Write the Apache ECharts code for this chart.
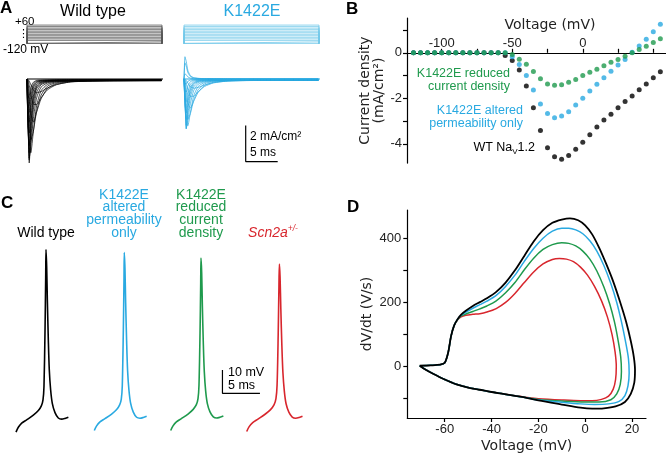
<!DOCTYPE html>
<html>
<head>
<meta charset="utf-8">
<script src="https://cdn.jsdelivr.net/npm/echarts@6/dist/echarts.min.js"></script>
<style>
  html, body { margin: 0; padding: 0; background: #fff; }
  #chart { width: 666px; height: 454px; }
</style>
</head>
<body>
<div id="chart"></div>
<script>
// ---------- A: voltage protocol and current families ----------
const stepLevels = [-120, -105, -90, -75, -60, -45, -30, -15, 0, 15, 30, 45, 60] // mV
const stepHold = -120
const stepDur = 21 // ms

const tA = [0, 0.15, 0.35, 0.6, 1.0, 1.5, 2.2, 3.2, 4.6, 7, 12, 21] // ms
// wild type, -45 ... +50 mV (mA/cm2)
const wtTraces = [
  [0, -0.02, -0.12, -0.32, -0.6, -0.76, -0.7, -0.5, -0.3, -0.16, -0.09, -0.07],
  [0, -0.05, -0.35, -0.85, -1.4, -1.42, -1.05, -0.6, -0.32, -0.15, -0.1, -0.08],
  [0, -0.15, -0.9, -1.95, -2.4, -1.85, -1.1, -0.52, -0.25, -0.13, -0.1, -0.09],
  [0, -0.35, -1.9, -3.4, -2.9, -1.8, -0.9, -0.4, -0.2, -0.12, -0.1, -0.09],
  [0, -0.7, -3.3, -4.1, -2.9, -1.5, -0.65, -0.3, -0.16, -0.11, -0.1, -0.09],
  [0, -1.2, -4.4, -3.7, -2.2, -1.05, -0.45, -0.22, -0.14, -0.1, -0.09, -0.09],
  [0, -1.8, -4.67, -3.3, -1.7, -0.75, -0.32, -0.18, -0.12, -0.1, -0.09, -0.08],
  [0, -2.3, -4.5, -2.9, -1.35, -0.55, -0.26, -0.15, -0.11, -0.09, -0.08, -0.08],
  [0, -2.6, -4.1, -2.5, -1.1, -0.45, -0.21, -0.13, -0.1, -0.08, -0.08, -0.07],
  [0, -2.7, -3.7, -2.2, -0.95, -0.38, -0.18, -0.12, -0.09, -0.08, -0.07, -0.07],
  [0, -2.6, -3.0, -1.7, -0.7, -0.28, -0.15, -0.1, -0.08, -0.07, -0.06, -0.06],
  [0, -2.3, -2.4, -1.3, -0.5, -0.2, -0.12, -0.09, -0.07, -0.06, -0.05, -0.05],
  [0, -1.9, -1.85, -0.95, -0.38, -0.16, -0.1, -0.08, -0.06, -0.05, -0.04, -0.04],
  [0, -1.6, -1.4, -0.7, -0.28, -0.12, -0.08, -0.06, -0.05, -0.04, -0.04, -0.03],
  [0, -1.05, -0.9, -0.45, -0.18, -0.08, -0.06, -0.05, -0.04, -0.03, -0.03, -0.03],
]
// K1422E, -45 ... +55 mV
const kTraces = [
  [0, -0.01, -0.08, -0.22, -0.42, -0.51, -0.47, -0.34, -0.2, -0.11, -0.07, -0.06],
  [0, -0.03, -0.24, -0.58, -0.96, -0.96, -0.72, -0.42, -0.22, -0.11, -0.08, -0.07],
  [0, -0.1, -0.6, -1.32, -1.62, -1.25, -0.75, -0.36, -0.18, -0.1, -0.08, -0.07],
  [0, -0.23, -1.25, -2.25, -1.92, -1.2, -0.6, -0.27, -0.14, -0.09, -0.08, -0.07],
  [0, -0.45, -2.1, -2.6, -1.86, -0.96, -0.42, -0.2, -0.12, -0.09, -0.08, -0.07],
  [0, -0.75, -2.75, -2.3, -1.37, -0.66, -0.29, -0.15, -0.1, -0.08, -0.07, -0.07],
  [0, -1.07, -2.78, -1.97, -1.01, -0.45, -0.2, -0.12, -0.09, -0.08, -0.07, -0.06],
  [0, -1.32, -2.58, -1.67, -0.78, -0.32, -0.15, -0.1, -0.08, -0.07, -0.06, -0.06],
  [0, -1.42, -2.24, -1.36, -0.6, -0.25, -0.12, -0.08, -0.07, -0.06, -0.05, -0.05],
  [0, -1.38, -1.89, -1.12, -0.48, -0.2, -0.1, -0.07, -0.06, -0.05, -0.05, -0.05],
  [0, -1.1, -1.26, -0.72, -0.3, -0.12, -0.07, -0.05, -0.04, -0.04, -0.04, -0.04],
  [0, -0.7, -0.72, -0.39, -0.15, -0.07, -0.05, -0.04, -0.03, -0.03, -0.03, -0.03],
  [0, -0.26, -0.25, -0.13, -0.06, -0.03, -0.02, -0.02, -0.02, -0.02, -0.02, -0.02],
  [0, 0.28, 0.24, 0.12, 0.05, 0.02, 0.01, 0.01, 0.01, 0.01, 0.01, 0.01],
  [0, 0.9, 0.72, 0.36, 0.14, 0.06, 0.03, 0.02, 0.02, 0.01, 0.01, 0.01],
  [0, 1.24, 0.98, 0.48, 0.19, 0.08, 0.04, 0.02, 0.02, 0.01, 0.01, 0.01],
]

// ---------- B: I-V relation ----------
const ivVolts = [-120, -115, -110, -105, -100, -95, -90, -85, -80, -75, -70, -65, -60, -55, -50, -45, -40, -35,
  -30, -25, -20, -15, -10, -5, 0, 5, 10, 15, 20, 25, 30, 35, 40, 45, 50, 55]
const ivWT = [0, 0, 0, 0, 0, 0, 0, 0, 0, 0, 0, 0, 0, -0.12, -0.34, -0.76, -1.46, -2.42,
  -3.42, -4.18, -4.57, -4.68, -4.52, -4.24, -3.93, -3.6, -3.26, -2.96, -2.7, -2.42, -2.14, -1.9, -1.62, -1.37, -1.1, -0.83]
const ivPerm = [0, 0, 0, 0, 0, 0, 0, 0, 0, 0, 0, 0, 0, 0, -0.17, -0.51, -1.0, -1.64,
  -2.25, -2.67, -2.86, -2.78, -2.59, -2.3, -2.0, -1.68, -1.38, -1.1, -0.81, -0.54, -0.29, 0.02, 0.3, 0.6, 0.92, 1.26]
const ivDens = [0, 0, 0, 0, 0, 0, 0, 0, 0, 0, 0, 0, 0, 0, -0.08, -0.28, -0.5, -0.82,
  -1.14, -1.37, -1.43, -1.41, -1.29, -1.17, -1.0, -0.85, -0.72, -0.57, -0.42, -0.29, -0.15, 0, 0.15, 0.29, 0.45, 0.62]

// ---------- C: action potentials [ms, mV] ----------
const apWT = [[0, -70], [0.31, -67.9], [0.76, -66.1], [1.42, -64.7], [2.31, -62.7], [2.98, -60.7], [3.38, -58.7],
  [3.6, -56.1], [3.73, -50.4], [3.87, -26.1], [3.96, -3.3], [4.0, 8.4], [4.09, 1], [4.18, -13.3], [4.31, -30.4],
  [4.44, -43.3], [4.62, -51.9], [4.84, -57.6], [5.2, -61.6], [5.64, -63.9], [6.09, -64.4], [6.53, -64.1], [6.98, -63.6]]
const apPerm = [[0, -69.3], [0.31, -67.3], [0.76, -65.6], [1.42, -64.2], [2.31, -62.2], [2.98, -60.3], [3.38, -58.3],
  [3.6, -55.8], [3.73, -50.2], [3.87, -26.5], [3.96, -4.5], [4.0, 7.1], [4.09, 0], [4.18, -14.2], [4.31, -31],
  [4.44, -43.6], [4.62, -52], [4.84, -57.5], [5.2, -61.4], [5.64, -63.6], [6.09, -64], [6.53, -63.7], [6.98, -63.2]]
const apDens = [[0, -69.3], [0.31, -67.3], [0.76, -65.6], [1.42, -64.2], [2.31, -62.2], [3.0, -60.2], [3.42, -58.2],
  [3.64, -55.6], [3.77, -50], [3.91, -27.5], [4.0, -6], [4.04, 4.7], [4.13, -1.5], [4.22, -15.5], [4.35, -32],
  [4.48, -44], [4.66, -52.3], [4.88, -57.6], [5.24, -61.3], [5.68, -63.4], [6.13, -63.9], [6.57, -63.6], [7.02, -63.1]]
const apHet = [[0, -69.7], [0.33, -67.6], [0.8, -65.9], [1.5, -64.4], [2.45, -62.3], [3.18, -60.3], [3.64, -58.3],
  [3.9, -55.6], [4.05, -49.8], [4.2, -28], [4.3, -7], [4.36, 2.2], [4.45, -3.5], [4.55, -17], [4.69, -33],
  [4.83, -44.5], [5.02, -52.5], [5.25, -57.8], [5.62, -61.4], [6.07, -63.5], [6.53, -64], [7.0, -63.7], [7.44, -63.2]]

// ---------- D: phase plots [mV, V/s] ----------
const ppWT = [[-70.7, 3], [-66, 4], [-62, 6], [-60, 12], [-58.5, 45], [-57.3, 95], [-56, 128], [-54.5, 148], [-53, 162],
  [-51, 174], [-48, 189], [-45, 201], [-42, 213], [-38, 233], [-34, 262], [-30, 300], [-26, 345], [-22, 390], [-18, 425],
  [-14, 448], [-10, 458], [-6.5, 462], [-3, 456], [0, 440], [3, 412], [6, 370], [9, 320], [12, 265], [15, 200], [17.5, 140],
  [19.5, 80], [20.8, 30], [21.3, -10], [21, -50], [19.5, -85], [17, -110], [13, -124], [8, -130], [3, -131], [-2, -128],
  [-10, -118], [-20, -105], [-25, -97], [-30, -91], [-35, -85], [-40, -79], [-45, -72], [-50, -65], [-55, -55], [-60, -40],
  [-65, -22], [-68.5, -8], [-70.7, 3]]
const ppPerm = [[-70.7, 3], [-66, 4], [-62, 6], [-60, 12], [-58.5, 45], [-57.3, 95], [-56, 128], [-54.5, 148], [-53, 160],
  [-51, 169], [-48, 182], [-45, 193], [-42, 204], [-38, 222], [-34, 250], [-30, 285], [-26, 328], [-22, 368], [-18, 400],
  [-14, 422], [-10, 431], [-7, 431], [-4, 426], [-1, 414], [2, 392], [5, 360], [8, 315], [11, 258], [13.5, 200], [15.5, 140],
  [17.2, 80], [18.5, 25], [18.8, -20], [18.3, -60], [17, -90], [14.5, -108], [10, -116], [4, -118], [-2, -116],
  [-10, -111], [-20, -104], [-25, -97], [-30, -91], [-35, -85], [-40, -79], [-45, -72], [-50, -65], [-55, -55], [-60, -40],
  [-65, -22], [-68.5, -8], [-70.7, 3]]
const ppDens = [[-70.7, 3], [-66, 4], [-62, 6], [-60, 12], [-58.5, 45], [-57.3, 95], [-56, 128], [-54.5, 147], [-53, 158],
  [-51, 164], [-48, 172], [-45, 180], [-42, 189], [-38, 205], [-34, 230], [-30, 262], [-26, 302], [-22, 338], [-18, 365],
  [-14, 380], [-10, 386], [-7, 384], [-4, 376], [-1, 360], [2, 335], [5, 298], [8, 248], [10.5, 195], [12.5, 140],
  [14, 85], [15.2, 30], [15.5, -15], [15, -55], [13.5, -85], [11, -103], [6, -110], [0, -110], [-10, -107],
  [-20, -102], [-25, -97], [-30, -91], [-35, -85], [-40, -79], [-45, -72], [-50, -65], [-55, -55], [-60, -40],
  [-65, -22], [-68.5, -8], [-70.7, 3]]
const ppHet = [[-70.7, 3], [-66, 4], [-62, 6], [-60, 12], [-58.5, 45], [-57.3, 95], [-56, 128], [-54.5, 146], [-53, 155],
  [-51, 160], [-48, 163], [-45, 165], [-42, 170], [-38, 181], [-34, 200], [-30, 228], [-26, 262], [-22, 295], [-18, 320],
  [-14, 334], [-11, 337], [-8, 335], [-5, 327], [-2, 310], [1, 285], [4, 250], [7, 205], [9.5, 155], [11.5, 100],
  [12.8, 45], [13.3, 0], [13, -40], [12, -70], [10, -92], [7, -102], [3, -106], [-2, -106], [-10, -104],
  [-20, -100], [-25, -96], [-30, -91], [-35, -85], [-40, -79], [-45, -72], [-50, -65], [-55, -55], [-60, -40],
  [-65, -22], [-68.5, -8], [-70.7, 3]]

// scale bars (values)
const scaleA = { amp: 2, dur: 5 }
const scaleC = { mv: 10, dur: 5 }

const BLUE = '#29a9e1'
const GREEN = '#1f9a4d'
const RED = '#d8262d'
const FONT = 'Liberation Sans, Arial, sans-serif'
const FONT2 = 'DejaVu Sans, Verdana, sans-serif'

const chart = echarts.init(document.getElementById('chart'), null, { renderer: 'canvas' })

const hidden = { show: false }
const hiddenAxis = (gi, min, max) => ({
  gridIndex: gi, type: 'value', min, max, show: false, splitLine: hidden,
})

// v6 shrinks grids to keep labels inside; switch that off so the grids stay put
const g = (left, top, width, height) => ({ left, top, width, height, outerBoundsMode: 'none', containLabel: false })
const grids = [
  g(27, 20, 135, 28.5), // 0 A WT steps
  g(184, 20, 135, 28.5), // 1 A K steps
  g(27, 47, 136, 123), // 2 A WT currents
  g(184, 47, 136, 123), // 3 A K currents
  g(407, 18, 259, 145.1), // 4 B
  g(16, 240, 90, 201.5), // 5 C WT
  g(94.3, 240, 90, 201.5), // 6 C perm
  g(170.7, 240, 90, 201.5), // 7 C dens
  g(246.7, 240, 90, 201.5), // 8 C het
  g(407.3, 210, 238.7, 208), // 9 D
]

const axisLineStyle = { color: '#000', width: 1.2 }
const tickLabel = { color: '#222', fontFamily: FONT, fontSize: 13 }

const B_YMIN = -4.85
const B_YMAX = 1.53
const B_H = 145.1

const xAxes = [
  hiddenAxis(0, 0, 21), hiddenAxis(1, 0, 21), hiddenAxis(2, 0, 21.25), hiddenAxis(3, 0, 21.25),
  {
    // drawn across the y = 0 line, labels above it
    gridIndex: 4, type: 'value', min: -124.6, max: 59, position: 'top',
    offset: -(B_YMAX / (B_YMAX - B_YMIN)) * B_H,
    axisLine: { onZero: false, lineStyle: axisLineStyle },
    axisTick: { length: 4, lineStyle: axisLineStyle, customValues: [-100, -75, -50, -25, 0, 25, 50] },
    axisLabel: { ...tickLabel, margin: 3, customValues: [-100, -50, 0] },
    splitLine: hidden,
    name: 'Voltage (mV)', nameLocation: 'middle', nameGap: 20,
    nameTextStyle: { fontFamily: FONT2, fontSize: 14, color: '#222', padding: [0, 0, 0, 27] },
  },
  hiddenAxis(5, 0, 12), hiddenAxis(6, 0, 12), hiddenAxis(7, 0, 12), hiddenAxis(8, 0, 12),
  {
    gridIndex: 9, type: 'value', min: -76, max: 26, position: 'bottom',
    axisLine: { onZero: false, lineStyle: axisLineStyle },
    axisTick: { length: 4, lineStyle: axisLineStyle, customValues: [-60, -40, -20, 0, 20] },
    axisLabel: { ...tickLabel, margin: 5, customValues: [-60, -40, -20, 0, 20] },
    splitLine: hidden,
    name: 'Voltage (mV)', nameLocation: 'middle', nameGap: 21,
    nameTextStyle: { fontFamily: FONT2, fontSize: 14, color: '#222' },
  },
]

const yAxes = [
  hiddenAxis(0, -170, 110), hiddenAxis(1, -170, 110), hiddenAxis(2, -5.06, 1.78), hiddenAxis(3, -5.06, 1.78),
  {
    gridIndex: 4, type: 'value', min: B_YMIN, max: B_YMAX,
    axisLine: { show: true, onZero: false, lineStyle: axisLineStyle },
    axisTick: { show: true, length: 4, lineStyle: axisLineStyle, customValues: [-4, -3, -2, -1, 0, 1] },
    axisLabel: { ...tickLabel, margin: 5, customValues: [-4, -2, 0] },
    splitLine: hidden,
    name: 'Current density\n(mA/cm²)', nameLocation: 'middle', nameGap: 17, nameRotate: 90,
    nameTextStyle: { fontFamily: FONT2, fontSize: 14, color: '#222', lineHeight: 14 },
  },
  hiddenAxis(5, -74, 12.5), hiddenAxis(6, -74, 12.5), hiddenAxis(7, -74, 12.5), hiddenAxis(8, -74, 12.5),
  {
    gridIndex: 9, type: 'value', min: -160, max: 488,
    axisLine: { show: true, onZero: false, lineStyle: axisLineStyle },
    axisTick: { show: true, length: 4, lineStyle: axisLineStyle, customValues: [-100, 0, 100, 200, 300, 400] },
    axisLabel: { ...tickLabel, margin: 6, customValues: [0, 200, 400] },
    splitLine: hidden,
    name: 'dV/dt (V/s)', nameLocation: 'middle', nameGap: 33, nameRotate: 90,
    nameTextStyle: { fontFamily: FONT2, fontSize: 14, color: '#222' },
  },
]

const series = []
const line = (gi, data, color, width, extra) => ({
  type: 'line', xAxisIndex: gi, yAxisIndex: gi, data, showSymbol: false, symbol: 'none',
  lineStyle: { color, width }, silent: true, z: 2, ...extra,
})

// A steps
stepLevels.forEach((v) => {
  const d = [[0, stepHold], [0, v], [stepDur, v], [stepDur, stepHold]]
  series.push(line(0, d, '#555', 0.8))
  series.push(line(1, d, '#74c9ea', 0.8))
})
// A currents (zero trace = steps below threshold)
series.push(line(2, [[0, 0], [21.25, 0]], '#000', 1))
series.push(line(3, [[-0.3, 0], [21.25, 0]], BLUE, 1))
wtTraces.forEach((tr) => series.push(line(2, tA.map((t, i) => [t, tr[i]]), '#000', 0.7, { smooth: 0.2 })))
kTraces.forEach((tr) => series.push(line(3, tA.map((t, i) => [t, tr[i]]), BLUE, 0.7, { smooth: 0.2 })))
// A scale bar (2 mA/cm2, 5 ms) drawn in the K1422E current axes
series.push(line(3, [[9.64, -2.59], [9.64, -2.59 - scaleA.amp], [9.64 + scaleA.dur, -2.59 - scaleA.amp]], '#000', 1.2))

// B
const dots = (ys, color) => ({
  type: 'scatter', xAxisIndex: 4, yAxisIndex: 4, symbol: 'circle', symbolSize: 5,
  itemStyle: { color }, data: ivVolts.map((v, i) => [v, ys[i]]), silent: true, z: 3,
})
series.push(dots(ivWT, '#000'), dots(ivPerm, BLUE), dots(ivDens, GREEN))

// C
series.push(line(5, apWT, '#000', 1.6, { smooth: 0.3 }))
series.push(line(6, apPerm, BLUE, 1.6, { smooth: 0.3 }))
series.push(line(7, apDens, GREEN, 1.6, { smooth: 0.3 }))
series.push(line(8, apHet, RED, 1.6, { smooth: 0.3 }))
series.push(line(7, [[6.9, -43.3], [6.9, -43.3 - scaleC.mv], [6.9 + scaleC.dur, -43.3 - scaleC.mv]], '#000', 1.2))

// D
series.push(line(9, ppHet, RED, 1.5, { smooth: 0.3 }))
series.push(line(9, ppDens, GREEN, 1.5, { smooth: 0.3 }))
series.push(line(9, ppPerm, BLUE, 1.5, { smooth: 0.3 }))
series.push(line(9, ppWT, '#000', 1.8, { smooth: 0.3 }))

const txt = (x, y, text, opt) => ({
  type: 'text', x, y, silent: true,
  style: {
    text, fill: '#000', font: `13px ${FONT}`,
    textAlign: 'left', textVerticalAlign: 'middle', align: 'left', verticalAlign: 'middle',
    ...opt,
  },
})
const center = { textAlign: 'center', align: 'center' }
const right = { textAlign: 'right', align: 'right' }

const graphic = [
  txt(0, 8, 'A', { font: `bold 17px ${FONT}` }),
  txt(346, 9, 'B', { font: `bold 17px ${FONT}` }),
  txt(1, 203, 'C', { font: `bold 17px ${FONT}` }),
  txt(347, 207, 'D', { font: `bold 17px ${FONT}` }),
  // A
  txt(93, 12, 'Wild type', { font: `16px ${FONT}`, ...center }),
  txt(252, 12, 'K1422E', { font: `16px ${FONT}`, fill: BLUE, ...center }),
  txt(15, 22, '+60', { font: `11.5px ${FONT}` }),
  txt(18, 34, '⋮', { font: `11px ${FONT2}` }),
  txt(3, 50, '-120 mV', { font: `12px ${FONT}` }),
  txt(250, 137, '2 mA/cm²', { font: `12px ${FONT}` }),
  txt(250, 153, '5 ms', { font: `12px ${FONT}` }),
  // B
  txt(510, 80, 'K1422E reduced\ncurrent density', { font: `12.5px ${FONT}`, fill: GREEN, lineHeight: 13, ...right }),
  txt(523, 117, 'K1422E altered\npermeability only', { font: `12.5px ${FONT}`, fill: BLUE, lineHeight: 13, ...right }),
  {
    type: 'text', x: 535, y: 148, silent: true,
    style: {
      text: '{a|WT Na}{s|V}{a|1.2}', textAlign: 'right', align: 'right', textVerticalAlign: 'middle', verticalAlign: 'middle',
      rich: {
        a: { fontFamily: FONT, fontSize: 12.5, fill: '#000', color: '#000' },
        s: { fontFamily: FONT, fontSize: 8, fill: '#000', color: '#000', padding: [7, 0, 0, 0] },
      },
    },
  },
  // C
  txt(46, 233, 'Wild type', { font: `14px ${FONT}`, ...center }),
  txt(124, 214, 'K1422E\naltered\npermeability\nonly', { font: `14px ${FONT}`, fill: BLUE, lineHeight: 12.8, ...center }),
  txt(201, 214, 'K1422E\nreduced\ncurrent\ndensity', { font: `14px ${FONT}`, fill: GREEN, lineHeight: 12.8, ...center }),
  {
    type: 'text', x: 273, y: 233, silent: true,
    style: {
      text: '{a|Scn2a}{s|+/-}', textAlign: 'center', align: 'center', textVerticalAlign: 'middle', verticalAlign: 'middle',
      rich: {
        a: { fontFamily: FONT, fontSize: 14, fontStyle: 'italic', fill: RED, color: RED },
        s: { fontFamily: FONT, fontSize: 8.5, fontStyle: 'italic', fill: RED, color: RED, padding: [0, 0, 8, 0] },
      },
    },
  },
  txt(228, 373, '10 mV', { font: `12.5px ${FONT}` }),
  txt(228, 386, '5 ms', { font: `12.5px ${FONT}` }),
]

chart.setOption({
  animation: false,
  backgroundColor: '#fff',
  grid: grids,
  xAxis: xAxes,
  yAxis: yAxes,
  series,
  graphic,
})
</script>
</body>
</html>
